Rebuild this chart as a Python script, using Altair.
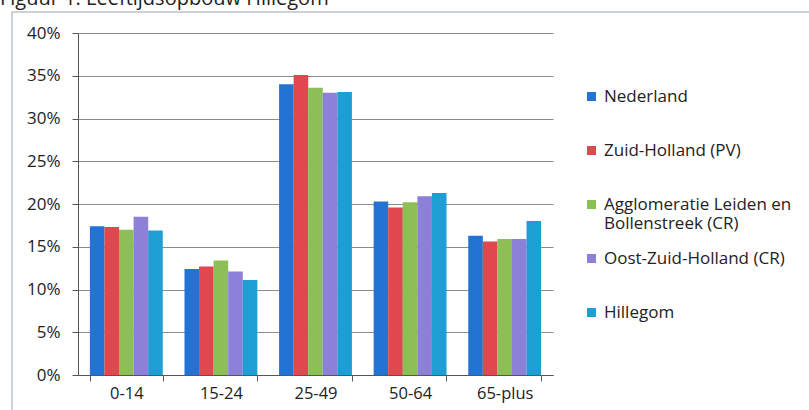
import altair as alt
import pandas as pd

title_text = ["Figuur 1: Leeftijdsopbouw Hillegom"]
categories = ["0-14", "15-24", "25-49", "50-64", "65-plus"]
regions = [
    "Nederland",
    "Zuid-Holland (PV)",
    "Agglomeratie Leiden en Bollenstreek (CR)",
    "Oost-Zuid-Holland (CR)",
    "Hillegom",
]
nederland = [17.4, 12.4, 34.0, 20.3, 16.3]
zuid_holland = [17.3, 12.7, 35.1, 19.6, 15.6]
agglomeratie = [17.0, 13.4, 33.6, 20.2, 15.9]
oost_zuid_holland = [18.5, 12.1, 33.0, 20.9, 15.9]
hillegom = [16.9, 11.1, 33.1, 21.3, 18.0]
colors = ["#2373d5", "#e0474f", "#8cbf56", "#8c80d8", "#1e9fd3"]

series = [nederland, zuid_holland, agglomeratie, oost_zuid_holland, hillegom]
rows = []
for reg, vals in zip(regions, series):
    for cat, v in zip(categories, vals):
        rows.append({"leeftijd": cat, "regio": reg, "pct": v})
df = pd.DataFrame(rows)

FONT = "Open Sans"

bars = alt.Chart(df).mark_bar(size=14.6).encode(
    x=alt.X(
        "leeftijd:N",
        sort=categories,
        title=None,
        scale=alt.Scale(paddingInner=0.23, paddingOuter=0.126),
        axis=alt.Axis(
            labelAngle=0,
            tickBand="extent",
            tickSize=6,
            tickColor="#555555",
            domainColor="#555555",
            labelFontSize=16.5,
            labelFont=FONT,
            labelColor="#222222",
            labelPadding=4,
            grid=False,
        ),
    ),
    xOffset=alt.XOffset("regio:N", sort=regions, scale=alt.Scale(paddingInner=0, paddingOuter=0)),
    y=alt.Y(
        "pct:Q",
        title=None,
        scale=alt.Scale(domain=[0, 40], nice=False),
        axis=alt.Axis(
            values=[0, 5, 10, 15, 20, 25, 30, 35, 40],
            labelExpr="datum.value + '%'",
            tickSize=6,
            tickColor="#555555",
            domainColor="#555555",
            gridColor="#8c8c8c",
            gridWidth=1,
            labelFontSize=17,
            labelFont=FONT,
            labelColor="#222222",
            labelPadding=12,
        ),
    ),
    color=alt.Color(
        "regio:N",
        sort=regions,
        scale=alt.Scale(domain=regions, range=colors),
        legend=alt.Legend(
            title=None,
            orient="none",
            legendX=505,
            legendY=55,
            symbolType="square",
            symbolSize=81,
            symbolStrokeWidth=0,
            labelFont=FONT,
            labelFontSize=17,
            labelColor="#222222",
            labelOffset=4,
            rowPadding=17,
            gridAlign="all",
            labelLimit=300,
            labelExpr="datum.label == 'Agglomeratie Leiden en Bollenstreek (CR)' ? ['Agglomeratie Leiden en', 'Bollenstreek (CR)'] : datum.label",
        ),
    ),
)

frame = alt.Chart(pd.DataFrame({"a": [0]})).mark_rect(
    fill=None, stroke="#9aa3b0", strokeWidth=1
).encode(
    x=alt.value(-66), x2=alt.value(780), y=alt.value(-21), y2=alt.value(420)
)

title = alt.Chart(pd.DataFrame({"t": title_text})).mark_text(
    align="left", baseline="alphabetic", font=FONT, fontSize=20, color="#222222"
).encode(
    text="t:N", x=alt.value(-78), y=alt.value(-28)
)

chart = alt.layer(frame, bars, title).properties(
    width=475,
    height=342,
    autosize=alt.AutoSizeParams(type="none"),
    padding={"left": 78, "top": 33, "right": 256, "bottom": 35},
).configure_view(stroke=None)

chart.save("out.html", embed_options={"renderer": "svg", "actions": False})
